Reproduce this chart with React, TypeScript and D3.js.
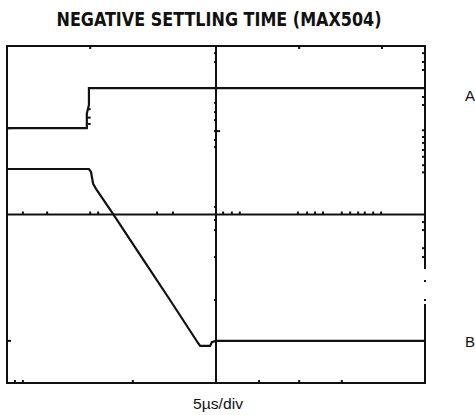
import * as React from "react"
import * as d3 from "d3"

// scope screen: 10 horizontal divisions, 8 vertical divisions
const xDivs = [0, 10]
const yDivs = [0, 8]

// trace A (upper), in divisions
const traceAx = [0, 1.91, 1.91, 1.96, 1.96, 10]
const traceAy = [6.05, 6.05, 6.4, 6.6, 7.0, 7.0]

// trace B (lower), in divisions
const traceBx = [0, 1.96, 2.01, 2.06, 2.13, 2.54, 3.2, 3.9, 4.57, 4.62, 4.86, 4.9, 5.0, 10]
const traceBy = [5.08, 5.08, 5.01, 4.73, 4.61, 4.01, 3.02, 1.97, 0.95, 0.88, 0.88, 0.97, 1.0, 1.0]

// little glitches on the rising edge of A
const glitchAy = [6.15, 6.3, 6.5]

// tick / dot marks seen on the graticule
const topTicks = [1.99, 6.99, 8.97]
const bottomTicks = [0.19, 0.38, 3.01, 6.03, 6.99, 8.01]
const midRowTicks = [0.38, 0.96, 1.99, 2.18, 3.59, 3.97, 5.17, 5.38, 5.57, 6.96, 7.18, 7.37, 7.56, 8.01, 8.21, 8.4, 8.56, 8.76, 8.95]
const midColTicks = [7.83, 7.62, 6.65, 6.43, 6.24, 5.98, 5.77, 5.6, 4.18, 3.87, 3.63, 2.99, 1.97]
const rightTicks = [7.83, 7.62, 7.43, 6.79, 6.6, 6.0, 5.84, 5.7, 5.53, 5.37, 5.17, 5.0, 3.82, 3.63, 3.2, 2.99]
const leftTicks = [6.05, 1.0]
// right edge is broken between these levels, with two stray dots
const rightEdgeGap = [2.73, 1.85]
const rightEdgeDots = [2.42, 1.97]

const narrow = "'Liberation Sans Narrow', 'Arial Narrow', 'DejaVu Sans Condensed', 'Liberation Sans', sans-serif"
const plain = "'Liberation Sans', Arial, sans-serif"

export default function App() {
  const x = d3.scaleLinear().domain(xDivs).range([7, 425])
  const y = d3.scaleLinear().domain(yDivs).range([383, 46])

  const line = d3
    .line<[number, number]>()
    .x((d) => x(d[0]))
    .y((d) => y(d[1]))

  const ptsA = traceAx.map((v, i) => [v, traceAy[i]] as [number, number])
  const ptsB = traceBx.map((v, i) => [v, traceBy[i]] as [number, number])

  const stroke = "#111"

  return (
    <svg
      width={475}
      height={415}
      style={{ position: "absolute", left: 0, top: 0, background: "#fff" }}
    >
      <text
        x={219}
        y={26}
        textAnchor="middle"
        fontFamily={narrow}
        fontWeight="bold"
        fontSize={19}
        textLength={325}
        lengthAdjust="spacingAndGlyphs"
        fill="#111"
      >
        NEGATIVE SETTLING TIME (MAX504)
      </text>

      {/* frame: top, left, bottom, broken right */}
      <g stroke={stroke} strokeWidth={2} fill="none" strokeLinecap="square">
        <line x1={x(0)} x2={x(10)} y1={y(8)} y2={y(8)} />
        <line x1={x(0)} x2={x(10)} y1={y(0)} y2={y(0)} />
        <line x1={x(0)} x2={x(0)} y1={y(0)} y2={y(8)} />
        <line x1={x(10)} x2={x(10)} y1={y(8)} y2={y(rightEdgeGap[0])} />
        <line x1={x(10)} x2={x(10)} y1={y(rightEdgeGap[1])} y2={y(0)} />
        {/* center cross */}
        <line x1={x(5)} x2={x(5)} y1={y(0)} y2={y(8)} />
        <line x1={x(0)} x2={x(10)} y1={y(4)} y2={y(4)} />
      </g>

      <g fill={stroke}>
        {rightEdgeDots.map((d, i) => (
          <rect key={"rd" + i} x={x(10) - 1} y={y(d) - 1} width={2} height={2} />
        ))}
      </g>

      <g stroke={stroke} strokeWidth={2}>
        {topTicks.map((d, i) => (
          <line key={"t" + i} x1={x(d)} x2={x(d)} y1={y(8)} y2={y(8) + 3} />
        ))}
        {bottomTicks.map((d, i) => (
          <line key={"b" + i} x1={x(d)} x2={x(d)} y1={y(0)} y2={y(0) - 3} />
        ))}
        {midRowTicks.map((d, i) => (
          <line key={"mr" + i} x1={x(d)} x2={x(d)} y1={y(4)} y2={y(4) - 3} />
        ))}
        {midColTicks.map((d, i) => (
          <line key={"mc" + i} x1={x(5) - 2} x2={x(5) + (i === 5 ? 4 : 1)} y1={y(d)} y2={y(d)} />
        ))}
        {rightTicks.map((d, i) => (
          <line key={"r" + i} x1={x(10) - 3} x2={x(10)} y1={y(d)} y2={y(d)} />
        ))}
        {leftTicks.map((d, i) => (
          <line key={"l" + i} x1={x(0)} x2={x(0) + 4} y1={y(d)} y2={y(d)} />
        ))}
        {glitchAy.map((d, i) => (
          <line key={"g" + i} x1={x(1.93)} x2={x(1.93) + 3} y1={y(d)} y2={y(d)} />
        ))}
      </g>

      <path d={line(ptsA) ?? ""} fill="none" stroke={stroke} strokeWidth={2.2} />
      <path d={line(ptsB) ?? ""} fill="none" stroke={stroke} strokeWidth={2.2} />

      <g fontFamily={plain} fill="#111">
        <text x={465} y={101} fontSize={15}>A</text>
        <text x={465} y={347} fontSize={15}>B</text>
        <text
          x={218}
          y={409}
          textAnchor="middle"
          fontSize={15}
          textLength={50}
          lengthAdjust="spacingAndGlyphs"
        >
          5µs/div
        </text>
      </g>
    </svg>
  )
}
